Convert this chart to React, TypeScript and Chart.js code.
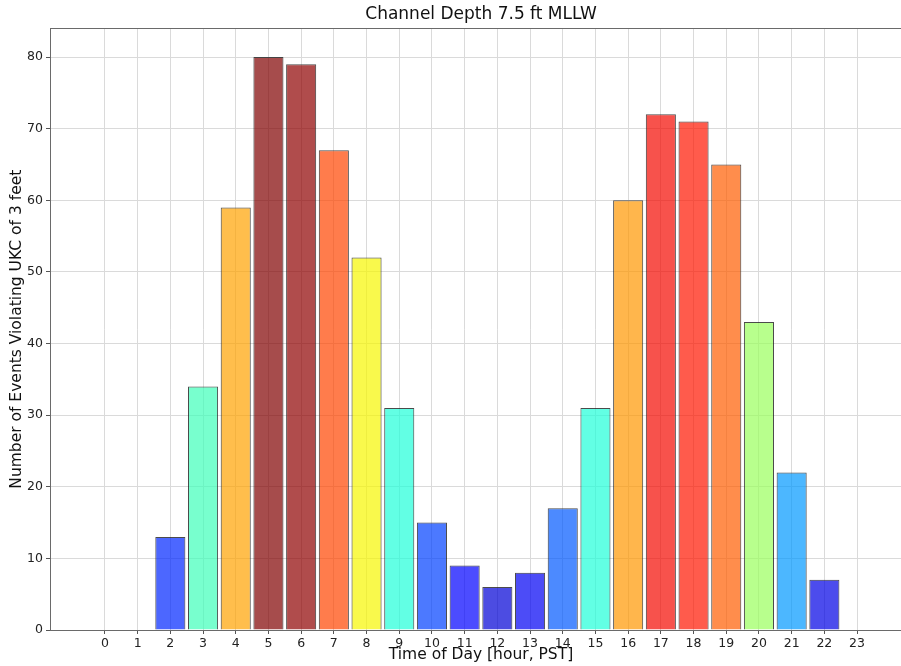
import React, { useEffect, useRef } from 'react';
import { Chart, registerables } from 'chart.js';

Chart.register(...registerables);

const chartTitle = 'Channel Depth 7.5 ft MLLW';
const xAxisTitle = 'Time of Day [hour, PST]';
const yAxisTitle = 'Number of Events Violating UKC of 3 feet';

const hours = [0, 1, 2, 3, 4, 5, 6, 7, 8, 9, 10, 11, 12, 13, 14, 15, 16, 17, 18, 19, 20, 21, 22, 23];
const events = [0, 0, 13, 34, 59, 80, 79, 67, 52, 31, 15, 9, 6, 8, 17, 31, 60, 72, 71, 65, 43, 22, 7, 0];
const yTickValues = [0, 10, 20, 30, 40, 50, 60, 70, 80];

const FONT = 'DejaVu Sans';

// matplotlib "jet" colormap segment data
const jetR: [number, number][] = [[0, 0], [0.35, 0], [0.66, 1], [0.89, 1], [1, 0.5]];
const jetG: [number, number][] = [[0, 0], [0.125, 0], [0.375, 1], [0.64, 1], [0.91, 0], [1, 0]];
const jetB: [number, number][] = [[0, 0.5], [0.11, 1], [0.34, 1], [0.65, 0], [1, 0]];

function interp(seg: [number, number][], t: number): number {
  for (let i = 0; i < seg.length - 1; i++) {
    const [x0, y0] = seg[i];
    const [x1, y1] = seg[i + 1];
    if (t >= x0 && t <= x1) {
      return y0 + ((t - x0) / (x1 - x0)) * (y1 - y0);
    }
  }
  return seg[seg.length - 1][1];
}

function jet(t: number, alpha: number): string {
  const r = Math.round(interp(jetR, t) * 255);
  const g = Math.round(interp(jetG, t) * 255);
  const b = Math.round(interp(jetB, t) * 255);
  return `rgba(${r},${g},${b},${alpha})`;
}

const maxEvents = Math.max(...events);

const framePlugin = {
  id: 'frame',
  afterDatasetsDraw(chart: any) {
    const { ctx, chartArea } = chart;
    ctx.save();
    ctx.strokeStyle = '#6a6a6a';
    ctx.lineWidth = 1;
    ctx.strokeRect(
      Math.round(chartArea.left) + 0.5,
      Math.round(chartArea.top) + 0.5,
      Math.round(chartArea.right - chartArea.left) - 1,
      Math.round(chartArea.bottom - chartArea.top)
    );
    ctx.restore();
  },
};

export default function App() {
  const ref = useRef<HTMLCanvasElement>(null);

  useEffect(() => {
    document.body.style.margin = '0';
    const canvas = ref.current!;
    const chart = new Chart(canvas, {
      type: 'bar',
      data: {
        datasets: [
          {
            data: hours.map((h, i) => ({ x: h, y: events[i] })),
            backgroundColor: events.map((v) => jet(v / maxEvents, 0.7)),
            borderColor: 'rgba(30,30,30,0.8)',
            borderWidth: 1,
            barPercentage: 0.92,
            categoryPercentage: 1,
          } as any,
        ],
      },
      plugins: [framePlugin],
      options: {
        responsive: false,
        animation: false,
        layout: { padding: { left: 0, right: 0, top: 0, bottom: 0 } },
        plugins: {
          legend: { display: false },
          tooltip: { enabled: false },
          title: {
            display: true,
            fullSize: false,
            text: chartTitle,
            color: '#111',
            font: { family: FONT, size: 17, weight: 'normal' },
            padding: { top: 4, bottom: 4 },
          },
        },
        scales: {
          x: {
            type: 'linear',
            min: -1.68,
            max: 24.68,
            offset: false,
            afterBuildTicks: (scale: any) => {
              scale.ticks = hours.map((v) => ({ value: v }));
            },
            afterFit: (scale: any) => {
              scale.height = 36;
            },
            ticks: {
              autoSkip: false,
              maxRotation: 0,
              color: '#222',
              padding: 2,
              font: { family: FONT, size: 12.5 },
            },
            grid: {
              offset: false,
              color: '#dadada',
              tickLength: 4,
              tickColor: '#555',
            },
            border: { display: false },
            title: {
              display: true,
              text: xAxisTitle,
              color: '#111',
              font: { family: FONT, size: 15.5 },
              padding: { top: 0, bottom: 2 },
            },
          } as any,
          y: {
            min: 0,
            max: 84,
            afterBuildTicks: (scale: any) => {
              scale.ticks = yTickValues.map((v) => ({ value: v }));
            },
            afterFit: (scale: any) => {
              scale.width = 50;
            },
            ticks: {
              color: '#222',
              padding: 3,
              font: { family: FONT, size: 12.5 },
            },
            grid: {
              color: '#dadada',
              tickLength: 4,
              tickColor: '#555',
            },
            border: { display: false },
            title: {
              display: true,
              text: yAxisTitle,
              color: '#111',
              font: { family: FONT, size: 15.5 },
              padding: { top: 8, bottom: 0 },
            },
          } as any,
        },
      },
    });
    return () => chart.destroy();
  }, []);

  return (
    <div style={{ width: 901, height: 666, position: 'relative', overflow: 'hidden', background: '#fff' }}>
      <canvas ref={ref} width={912} height={666} style={{ display: 'block' }} />
    </div>
  );
}
